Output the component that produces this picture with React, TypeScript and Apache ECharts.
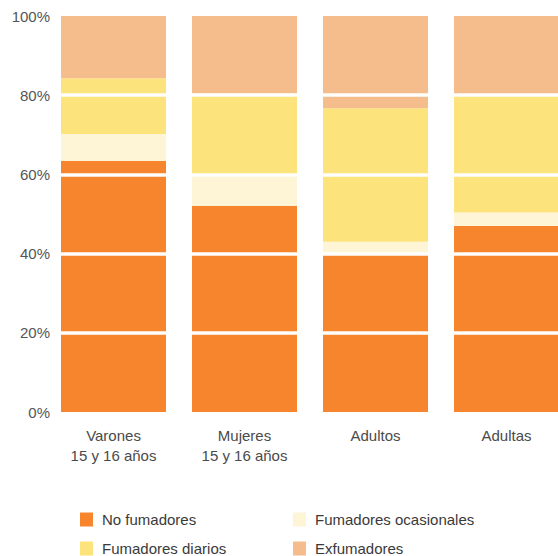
import React, { useEffect, useRef } from "react";
import * as echarts from "echarts";

const categories = ["Varones\n15 y 16 años", "Mujeres\n15 y 16 años", "Adultos", "Adultas"];
const noFumadores = [63.4, 52.1, 40, 47];
const ocasionales = [6.8, 7.4, 3, 3.4];
const diarios = [14.1, 21, 33.7, 29.6];
const exfumadores = [15.7, 19.5, 23.3, 20];
const yTicks = [0, 20, 40, 60, 80, 100];

const seriesNames = ["No fumadores", "Fumadores ocasionales", "Fumadores diarios", "Exfumadores"];
const colors = ["#F7852E", "#FDF5D6", "#FCE37C", "#F5BD8B"];

export default function App() {
  const ref = useRef<HTMLDivElement>(null);
  useEffect(() => {
    if (!ref.current) return;
    const chart = echarts.init(ref.current, null, { renderer: "svg" });
    const data = [noFumadores, ocasionales, diarios, exfumadores];
    const legendPos = [
      { left: 80, top: 512 },
      { left: 293, top: 512 },
      { left: 80, top: 541 },
      { left: 293, top: 541 },
    ];
    chart.setOption({
      animation: false,
      color: colors,
      grid: { left: 48, top: 16, width: 524, height: 396 },
      xAxis: {
        type: "category",
        data: categories,
        axisLine: { show: false },
        axisTick: { show: false },
        axisLabel: {
          color: "#4a4a4a",
          fontSize: 15,
          fontFamily: "Liberation Sans, Arial, sans-serif",
          lineHeight: 20,
          margin: 13,
        },
      },
      yAxis: {
        type: "value",
        min: yTicks[0],
        max: yTicks[yTicks.length - 1],
        interval: 20,
        z: 10,
        axisLine: { show: false },
        axisTick: { show: false },
        splitLine: {
          show: true,
          showMinLine: false,
          showMaxLine: false,
          lineStyle: { color: "#ffffff", width: 3.5 },
        },
        axisLabel: {
          formatter: "{value}%",
          color: "#555555",
          fontSize: 15,
          fontFamily: "Liberation Sans, Arial, sans-serif",
          margin: -2,
          padding: [8, 0, 0, 0],
        },
      },
      legend: seriesNames.map((n, i) => ({
        data: [n],
        left: legendPos[i].left,
        top: legendPos[i].top,
        itemWidth: 13,
        itemHeight: 14,
        itemGap: 0,
        padding: 0,
        icon: "rect",
        selectedMode: false,
        textStyle: {
          color: "#3a3a3a",
          fontSize: 15,
          fontFamily: "Liberation Sans, Arial, sans-serif",
          padding: [0, 0, 0, 4],
        },
      })),
      series: seriesNames.map((n, i) => ({
        name: n,
        type: "bar",
        stack: "total",
        barWidth: 105,
        data: data[i],
        itemStyle: { color: colors[i] },
      })),
    });
    return () => chart.dispose();
  }, []);
  return (
    <div
      style={{ position: "fixed", left: 0, top: 0, width: 558, height: 556, overflow: "hidden", background: "#fff" }}
    >
      <div ref={ref} style={{ width: 580, height: 556 }} />
    </div>
  );
}
